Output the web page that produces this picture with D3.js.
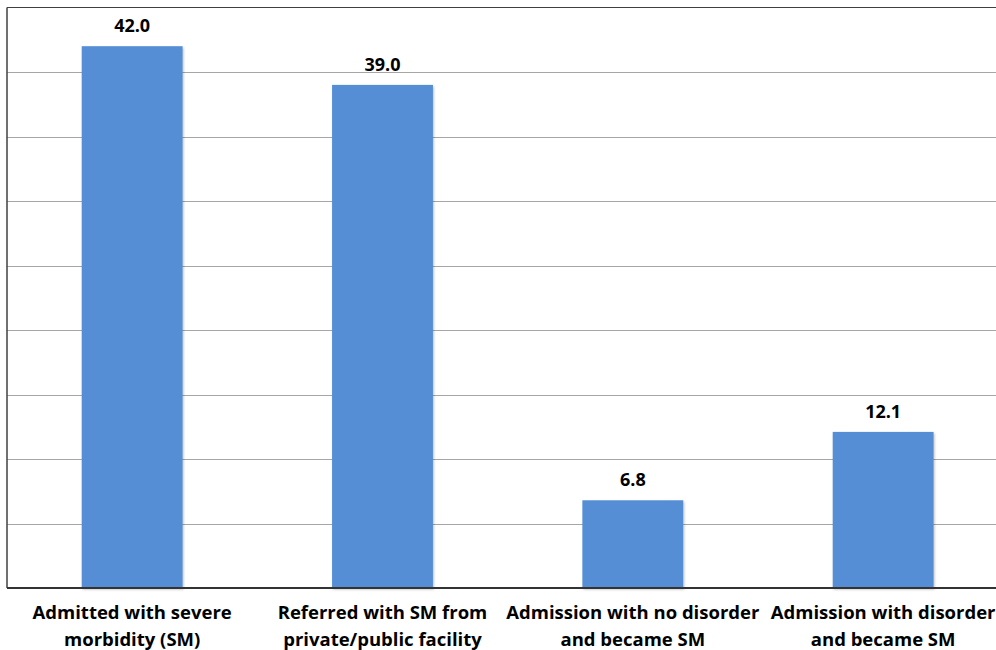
<!DOCTYPE html>
<html>
<head>
<meta charset="utf-8">
<script src="https://cdn.jsdelivr.net/npm/d3@7"></script>
<style>
  html, body { margin: 0; padding: 0; background: #fff; }
  svg { display: block; }
</style>
</head>
<body>
<svg id="chart" width="996" height="650"></svg>
<script>
// Share of severe morbidity cases by route of presentation (%)
const categories = [
  ["Admitted with severe", "morbidity (SM)"],
  ["Referred with SM from", "private/public facility"],
  ["Admission with no disorder", "and became SM"],
  ["Admission with disorder", "and became SM"]
];
const values = [42.0, 39.0, 6.8, 12.1];
const yTicks = [0, 5, 10, 15, 20, 25, 30, 35, 40, 45];

const svg = d3.select("#chart");
const plotLeft = 7, plotTop = 7.5, plotBottom = 588;
const bandStep = 250.33;
const plotRight = plotLeft + bandStep * categories.length;

const x = d3.scaleBand()
  .domain(d3.range(categories.length))
  .range([plotLeft, plotRight])
  .paddingInner(0.597)
  .paddingOuter(0.2985);

const y = d3.scaleLinear().domain([0, 45]).range([plotBottom, plotTop]);

// horizontal gridlines
svg.append("g")
  .selectAll("line")
  .data(yTicks.filter(t => t > 0 && t < 45))
  .join("line")
  .attr("x1", plotLeft).attr("x2", plotRight)
  .attr("y1", d => Math.round(y(d)) + 0.5)
  .attr("y2", d => Math.round(y(d)) + 0.5)
  .attr("stroke", "#a6a6a6")
  .attr("stroke-width", 1.2);

// bars with soft drop shadow
const defs = svg.append("defs");
const f = defs.append("filter").attr("id", "shadow")
  .attr("x", "-10%").attr("y", "-10%").attr("width", "130%").attr("height", "130%");
f.append("feDropShadow").attr("dx", 1).attr("dy", 1.5).attr("stdDeviation", 1.2)
  .attr("flood-color", "#000").attr("flood-opacity", 0.25);

svg.append("g")
  .selectAll("rect")
  .data(values)
  .join("rect")
  .attr("x", (d, i) => x(i))
  .attr("width", x.bandwidth())
  .attr("y", d => y(d))
  .attr("height", d => y(0) - y(d))
  .attr("fill", "#558ed5")
  .attr("filter", "url(#shadow)");

// plot frame: top and left edges, bottom axis
svg.append("line")
  .attr("x1", plotLeft).attr("x2", plotRight).attr("y1", y(45)).attr("y2", y(45))
  .attr("stroke", "#404040").attr("stroke-width", 1.2);
svg.append("line")
  .attr("x1", plotLeft).attr("x2", plotLeft).attr("y1", y(45)).attr("y2", y(0))
  .attr("stroke", "#404040").attr("stroke-width", 1.5);
svg.append("line")
  .attr("x1", plotLeft).attr("x2", plotRight).attr("y1", y(0)).attr("y2", y(0))
  .attr("stroke", "#333").attr("stroke-width", 2);

const font = "'Open Sans', 'Noto Sans', sans-serif";

// value labels
svg.append("g")
  .selectAll("text")
  .data(values)
  .join("text")
  .attr("x", (d, i) => x(i) + x.bandwidth() / 2)
  .attr("y", d => y(d) - 14)
  .attr("text-anchor", "middle")
  .attr("font-family", font)
  .attr("font-weight", 700)
  .attr("font-size", 18)
  .attr("fill", "#000")
  .text(d => d.toFixed(1));

// category labels (two lines each)
const lab = svg.append("g")
  .selectAll("text")
  .data(categories)
  .join("text")
  .attr("x", (d, i) => x(i) + x.bandwidth() / 2)
  .attr("y", 619)
  .attr("text-anchor", "middle")
  .attr("font-family", font)
  .attr("font-weight", 700)
  .attr("font-size", 18.5)
  .attr("fill", "#000");
lab.each(function(d, i) {
  const t = d3.select(this);
  const cx = x(i) + x.bandwidth() / 2;
  d.forEach((line, k) => {
    t.append("tspan").attr("x", cx).attr("dy", k === 0 ? 0 : 27).text(line);
  });
});
</script>
</body>
</html>
